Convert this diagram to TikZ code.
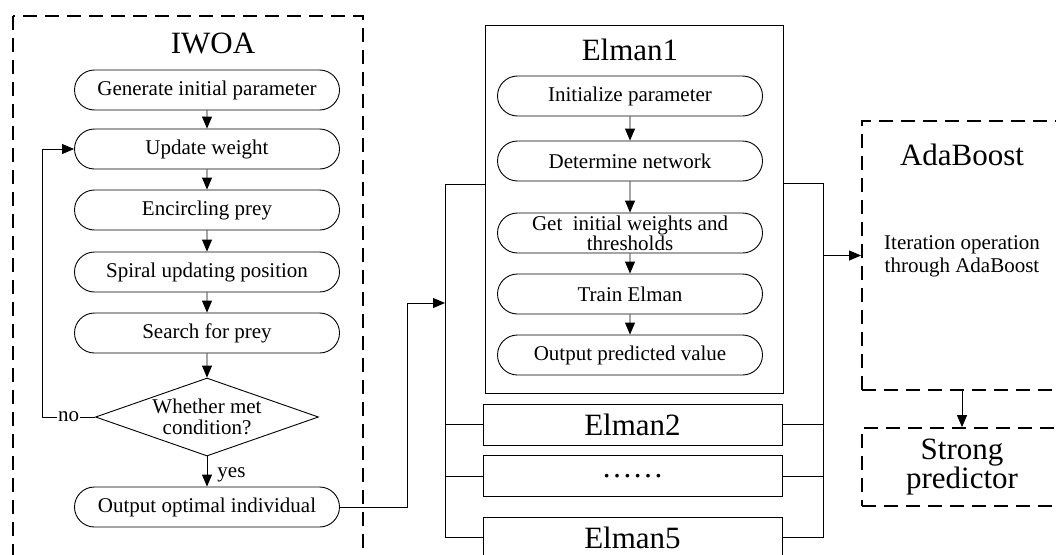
\documentclass[tikz,border=0pt]{standalone}
\usepackage{fontspec}
\setmainfont{Liberation Serif}
\usetikzlibrary{arrows.meta,shapes.misc,shapes.geometric}

\begin{document}
\begin{tikzpicture}[x = 1pt, y = -1pt, line width = 0.9pt,
        proc/.style = {draw, rounded rectangle, minimum width = 265pt, minimum height = 40pt,
            inner sep = 0pt, align = center, font = \fontsize{21}{17}\selectfont},
        cond/.style = {draw, diamond, aspect = 2.7, inner sep = 0pt, minimum width = 223pt,
            minimum height = 78pt, align = center, font = \fontsize{21}{21}\selectfont},
        net/.style = {draw, rectangle, minimum width = 299pt, minimum height = 41pt,
            inner sep = 0pt, font = \fontsize{31}{31}\selectfont},
        dashbox/.style = {draw, dash pattern = on 14pt off 8pt, line width = 1.8pt},
        heading/.style = {font = \fontsize{31}{31}\selectfont},
        small/.style = {font = \fontsize{21}{21}\selectfont},
        arr/.style = {-{Triangle[length = 12pt, width = 10pt]}}
    ]
        \useasboundingbox (0, 0) rectangle (1056, 554);

        % IWOA
        \draw [dashbox] (13, 16) rectangle (363, 580);
        \node [heading] (iwoa) at (213, 43) {IWOA};
        \node [proc] (gen) at (207, 90) {Generate initial parameter};
        \node [proc] (upd) at (207, 149) {Update weight};
        \node [proc] (enc) at (207, 210) {Encircling prey};
        \node [proc] (spi) at (207, 272) {Spiral updating position};
        \node [proc] (sea) at (207, 333) {Search for prey};
        \node [cond] (dec) at (207, 417) {Whether met\\condition?};
        \node [proc] (out) at (207, 507) {Output optimal individual};
        \coordinate (lp) at (42, 417);
        \coordinate (jn) at (407, 303);

        \draw [arr] (gen) -- (upd);
        \draw [arr] (upd) -- (enc);
        \draw [arr] (enc) -- (spi);
        \draw [arr] (spi) -- (sea);
        \draw [arr] (sea) -- (dec);
        \draw [arr] (dec) -- node [right, pos = 0.6, small, inner sep = 0pt, xshift = 10pt] (yes) {yes} (out);
        \draw [arr] (dec.west) -- node [fill = white, small, inner sep = 1pt] (no) {no} (lp) |- (upd.west);

        % Elman networks
        \node [draw, minimum width = 298pt, minimum height = 368pt, inner sep = 0pt] (e1) at (634, 209) {};
        \node [heading] (e1t) at (630, 50) {Elman1};
        \node [proc] (ini) at (630, 96) {Initialize parameter};
        \node [proc] (det) at (630, 161) {Determine network};
        \node [proc] (get) at (630, 233) {Get\ \ initial weights and\\thresholds};
        \node [proc] (tra) at (630, 294) {Train Elman};
        \node [proc] (opv) at (630, 355) {Output predicted value};
        \node [net] (e2) at (632.5, 424.5) {Elman2};
        \node [net] (e3) at (632.5, 476) {……};
        \node [net] (e5) at (632.5, 537.5) {Elman5};
        \coordinate (lb) at (445, 184);
        \coordinate (rb) at (823, 183);

        \draw [arr] (ini) -- (det);
        \draw [arr] (det) -- (get);
        \draw [arr] (get) -- (tra);
        \draw [arr] (tra) -- (opv);

        \draw [arr] (out.east) -| (jn) -- (jn -| lb);
        \draw (e1.west |- lb) -- (lb) |- (e5.west);
        \draw (e1.east |- rb) -- (rb) |- (e5.east);
        \foreach \n in {e2, e3} {
            \draw (\n.west) -- (\n.west -| lb);
            \draw (\n.east) -- (\n.east -| rb);
        }

        % AdaBoost
        \node [dashbox, minimum width = 200pt, minimum height = 269pt] (ada) at (962, 255.5) {};
        \node [heading] (adat) at (962, 155) {AdaBoost};
        \node [align = center, font = \fontsize{21}{23}\selectfont] (iter) at (962, 256)
            {Iteration operation\\through AdaBoost};
        \node [dashbox, minimum width = 200pt, minimum height = 78pt, align = center,
            font = \fontsize{31}{28}\selectfont] (sp) at (962, 467) {Strong\\predictor};

        \draw [arr] (rb |- ada.west) -- (ada.west);
        \draw [arr] (ada.south) -- (sp.north);
\end{tikzpicture}
\end{document}
